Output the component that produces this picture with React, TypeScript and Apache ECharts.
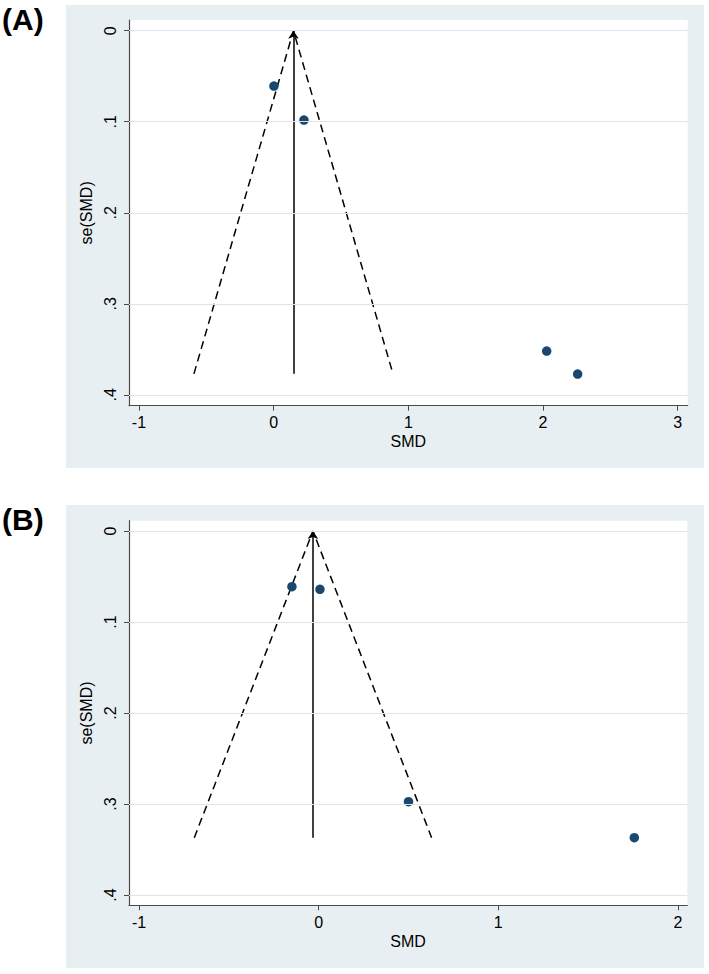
import React, { useEffect, useRef } from "react";
import * as echarts from "echarts";

// Panel A data
const smdA = [0.002, 0.225, 2.027, 2.257];
const seA = [0.0608, 0.0981, 0.352, 0.3773];
const pooledA = 0.147;
const maxSeA = 0.377;
const xTicksA = [-1, 0, 1, 2, 3];

// Panel B data
const smdB = [-0.149, 0.007, 0.5, 1.757];
const seB = [0.0612, 0.0641, 0.2975, 0.337];
const pooledB = -0.032;
const maxSeB = 0.337;
const xTicksB = [-1, 0, 1, 2];

const yTicks = [0, 0.1, 0.2, 0.3, 0.4];
const panelLabels = ["(A)", "(B)"];

const FONT = '"Liberation Sans", Arial, sans-serif';
const AXIS_COLOR = "#4a4a4a";
const PANEL_BG = "#e8eff2";
const GRID_LINE = "#dbe6ea";
const MARKER = "#1a476f";
const FS = 16;

const yFmt = (v: number) => (v === 0 ? "0" : String(v).replace(/^0\./, "."));

function App() {
  const ref = useRef<HTMLDivElement>(null);
  useEffect(() => {
    if (!ref.current) return;
    const chart = echarts.init(ref.current, null, { renderer: "svg" });

    const panels = [
      { smd: smdA, se: seA, pooled: pooledA, maxSe: maxSeA, xTicks: xTicksA, xMin: -1.074, xMax: 3.074, grid: { left: 129, top: 20, width: 558.7, height: 385.7 } },
      { smd: smdB, se: seB, pooled: pooledB, maxSe: maxSeB, xTicks: xTicksB, xMin: -1.056, xMax: 2.052, grid: { left: 129, top: 520.7, width: 558.3, height: 384.6 } },
    ];

    const grids: any[] = [];
    const xAxes: any[] = [];
    const yAxes: any[] = [];
    const series: any[] = [];
    const graphics: any[] = [];

    panels.forEach((p, i) => {
      const offY = i * 500;
      graphics.push({
        type: "rect",
        z: -100,
        shape: { x: 66, y: 5 + offY, width: 638, height: 463 },
        style: { fill: PANEL_BG },
        silent: true,
      });
      graphics.push({
        type: "text",
        x: 2,
        y: 4 + offY,
        style: {
          text: panelLabels[i],
          font: `bold 30px ${FONT}`,
          fill: "#000",
          verticalAlign: "top",
        },
      });
      grids.push({ ...p.grid, show: true, backgroundColor: "#ffffff", borderWidth: 0, containLabel: false });
      xAxes.push({
        gridIndex: i,
        type: "value",
        min: p.xMin,
        max: p.xMax,
        position: "bottom",
        name: "SMD",
        nameLocation: "middle",
        nameGap: 28,
        nameTextStyle: { fontSize: FS, fontFamily: FONT, color: "#000" },
        axisLine: { show: true, onZero: false, lineStyle: { color: AXIS_COLOR, width: 1.2 } },
        axisTick: { show: true, length: 5, customValues: p.xTicks, lineStyle: { color: AXIS_COLOR, width: 1 } },
        axisLabel: { customValues: p.xTicks, margin: 9, fontSize: FS, fontFamily: FONT, color: "#000", formatter: (v: number) => String(v) },
        splitLine: { show: false },
      });
      yAxes.push({
        gridIndex: i,
        type: "value",
        inverse: true,
        min: i === 0 ? -0.0118 : -0.0113,
        max: i === 0 ? 0.412 : 0.4113,
        name: "se(SMD)",
        nameLocation: "middle",
        nameGap: 26,
        nameRotate: 90,
        nameTextStyle: { fontSize: FS, fontFamily: FONT, color: "#000" },
        axisLine: { show: true, onZero: false, lineStyle: { color: AXIS_COLOR, width: 1.2 } },
        axisTick: { show: true, length: 5, customValues: yTicks, lineStyle: { color: AXIS_COLOR, width: 1 } },
        axisLabel: { customValues: yTicks, rotate: 90, margin: 11, fontSize: FS, fontFamily: FONT, color: "#000", formatter: yFmt },
        splitLine: { show: false },
      });
      // gridlines
      series.push({
        type: "line",
        xAxisIndex: i,
        yAxisIndex: i,
        data: [],
        z: 1,
        silent: true,
        markLine: {
          silent: true,
          symbol: "none",
          label: { show: false },
          lineStyle: { color: GRID_LINE, width: 1, type: "solid" },
          data: yTicks.map((t) => ({ yAxis: t })),
        },
      });
      // funnel limits
      const lo = p.pooled - 1.96 * p.maxSe;
      const hi = p.pooled + 1.96 * p.maxSe;
      series.push({
        type: "line",
        xAxisIndex: i,
        yAxisIndex: i,
        z: 3,
        symbol: "none",
        silent: true,
        data: [
          [lo, p.maxSe],
          [p.pooled, 0],
          [hi, p.maxSe],
        ],
        lineStyle: { color: "#000", width: 1.5, type: [8, 5] },
      });
      // pooled estimate line with arrow
      series.push({
        type: "lines",
        coordinateSystem: "cartesian2d",
        xAxisIndex: i,
        yAxisIndex: i,
        z: 3,
        silent: true,
        symbol: ["none", "arrow"],
        symbolSize: 8,
        data: [{ coords: [[p.pooled, p.maxSe], [p.pooled, 0]] }],
        lineStyle: { color: "#000", width: 1.5, opacity: 1, curveness: 0 },
      });
      // studies
      series.push({
        type: "scatter",
        xAxisIndex: i,
        yAxisIndex: i,
        z: 4,
        symbolSize: 9.5,
        itemStyle: { color: MARKER, opacity: 1 },
        data: p.smd.map((x, k) => [x, p.se[k]]),
      });
    });

    chart.setOption({
      animation: false,
      backgroundColor: "#ffffff",
      textStyle: { fontFamily: FONT },
      grid: grids,
      xAxis: xAxes,
      yAxis: yAxes,
      series,
      graphic: { elements: graphics },
    });
    return () => chart.dispose();
  }, []);

  return (
    <div
      ref={ref}
      style={{ position: "absolute", left: 0, top: 0, width: 709, height: 974 }}
    />
  );
}

export default App;
